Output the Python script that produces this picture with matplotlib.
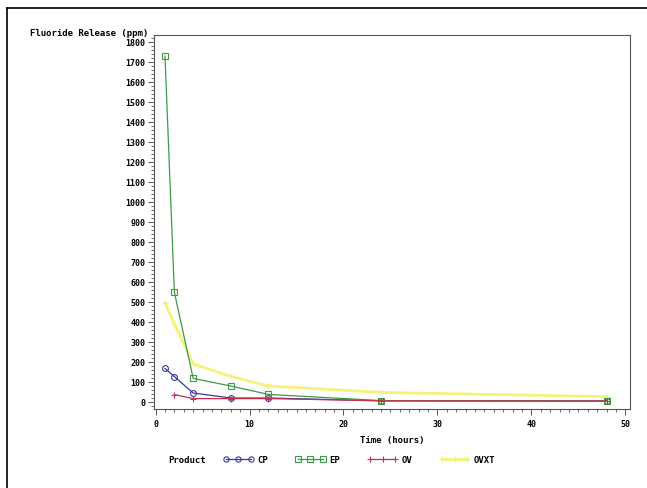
import matplotlib
matplotlib.use("Agg")
import matplotlib.pyplot as plt
from matplotlib.lines import Line2D
from matplotlib.ticker import MultipleLocator

plt.rcParams['font.family'] = ['DejaVu Sans Mono']
plt.rcParams['font.weight'] = 'bold'

# Data
time_cp = [1, 2, 4, 8, 12, 24, 48]
cp = [168, 127, 45, 20, 20, 6, 5]
time_ep = [1, 2, 4, 8, 12, 24, 48]
ep = [1730, 548, 118, 80, 38, 7, 4]
time_ov = [2, 4, 8, 12, 24, 48]
ov = [37, 17, 17, 17, 6, 5]
time_ovxt = [1, 2, 4, 8, 12, 24, 48]
ovxt = [495, 390, 190, 128, 80, 48, 27]

products = ['CP', 'EP', 'OV', 'OVXT']
colors = ['#3a3a9e', '#3c9a46', '#c8304a', '#f4f27a']
markers = ['o', 's', '+', '+']

W, H = 647, 489
fig = plt.figure(figsize=(W / 100, H / 100), dpi=100)
ax = fig.add_axes([154 / W, 1 - 410 / H, (630 - 154) / W, (410 - 36) / H])

series = [(time_cp, cp), (time_ep, ep), (time_ov, ov), (time_ovxt, ovxt)]
handles = []
for (t, v), name, c, m in zip(series, products, colors, markers):
    if name == 'OVXT':
        ax.plot(t, v, color=c, lw=2.0, marker=m, ms=4, mew=0.9, zorder=1)
        h = Line2D([], [], color=c, lw=2.0, marker=m, ms=4, mew=0.9)
    else:
        ax.plot(t, v, color=c, lw=0.9, marker=m, ms=4.2, mfc='none', mew=0.8, zorder=2)
        h = Line2D([], [], color=c, lw=0.9, marker=m, ms=3.8, mfc='none', mew=0.8)
    handles.append(h)

ax.set_xlim(-0.17, 50.5)
ax.set_ylim(-35, 1835)
ax.xaxis.set_major_locator(MultipleLocator(10))
ax.xaxis.set_minor_locator(MultipleLocator(1))
ax.yaxis.set_major_locator(MultipleLocator(100))
ax.yaxis.set_minor_locator(MultipleLocator(20))
ax.tick_params(axis='both', which='major', labelsize=6, length=4, width=0.7, color='#555555', pad=2)
ax.tick_params(axis='both', which='minor', length=2, width=0.6, color='#555555')
ax.tick_params(axis='x', which='major', pad=3)
for lab in ax.get_xticklabels() + ax.get_yticklabels():
    lab.set_fontweight('bold')
for s in ax.spines.values():
    s.set_linewidth(0.8)
    s.set_color('#555555')

fig.text(148 / W, 1 - 33 / H, 'Fluoride Release (ppm)', ha='right', va='center',
         fontsize=6.5, fontweight='bold')
fig.text(392 / W, 1 - 441 / H, 'Time (hours)', ha='center', va='center',
         fontsize=6.5, fontweight='bold')
fig.text(168 / W, 1 - 461 / H, 'Product', ha='left', va='center',
         fontsize=6.5, fontweight='bold')

leg = fig.legend(handles, products, loc='center left',
                 bbox_to_anchor=(223 / W, 1 - 461 / H), ncol=4, frameon=False,
                 fontsize=6.5, numpoints=3, handlelength=3.4, handletextpad=0.4,
                 columnspacing=3.0, borderpad=0, borderaxespad=0)
for t in leg.get_texts():
    t.set_fontweight('bold')

# page border lines (top and left)
fig.add_artist(Line2D([7 / W, 1], [1 - 9 / H, 1 - 9 / H], transform=fig.transFigure,
                      color='black', lw=1.2))
fig.add_artist(Line2D([7 / W, 7 / W], [0, 1 - 9 / H], transform=fig.transFigure,
                      color='black', lw=1.2))

fig.savefig('out.png', dpi=100)
